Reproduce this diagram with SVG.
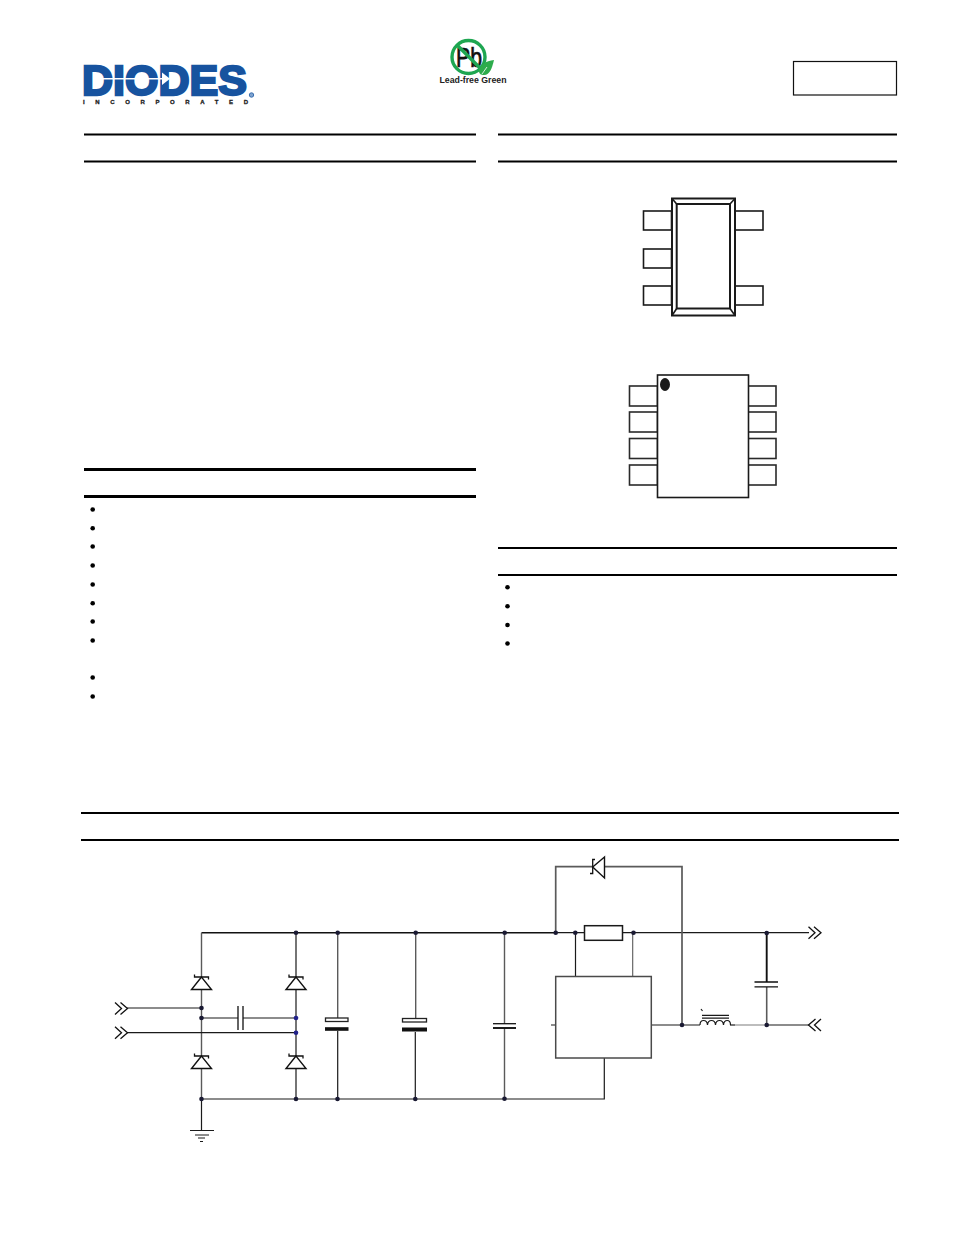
<svg xmlns="http://www.w3.org/2000/svg" width="954" height="1235" viewBox="0 0 954 1235">
<defs>
<style>
.w{fill:none;stroke:#1a1a1a;stroke-width:1.2}
.g{fill:none;stroke:#5a5a5a;stroke-width:1.4}
.k{fill:none;stroke:#111;stroke-width:1.5}
.p{fill:#fff;stroke:#222;stroke-width:1.3}
.r{stroke:#000;fill:none}
.d{fill:#1a1a33}
.b{fill:#000}
</style>
<g id="dz">
<path class="k" style="stroke-width:1.4" d="M0 0L-10 12.500H10Z"/>
<path class="k" style="stroke-width:1.3" d="M-7 -2.500V0H7V2.500"/>
</g>
<path id="ch" class="k" style="stroke-width:1.3" d="M0 -6L6.500 0L0 6M5.500 -6L12.500 0L5.500 6"/>
</defs>
<rect width="954" height="1235" fill="#fff"/>
<g id="logo-diodes">
<text x="82" y="95" font-family="Liberation Sans, Arial, sans-serif" font-weight="700" font-size="43" fill="#17539f" stroke="#17539f" stroke-width="2.400" stroke-linejoin="miter" textLength="165" lengthAdjust="spacingAndGlyphs">DIODES</text>
<path d="M93 78.700H164" stroke="#fff" stroke-width="1.400" fill="none"/>
<path d="M162 72.500L170 78.700L162 85Z" fill="#fff"/>
<text x="83" y="104" font-family="Liberation Sans, Arial, sans-serif" font-weight="700" font-size="6" fill="#222" stroke="#222" stroke-width=".3" textLength="165">INCORPORATED</text>
<circle cx="251.500" cy="95" r="2.200" fill="#7fa3cf" stroke="#3a6fb0" stroke-width="1"/>
</g>
<g id="logo-leadfree">
<text x="456" y="67" font-family="Liberation Sans, Arial, sans-serif" font-size="27" fill="#111" stroke="#111" stroke-width=".7" textLength="26" lengthAdjust="spacingAndGlyphs">Pb</text>
<circle cx="468.500" cy="57" r="16.500" fill="none" stroke="#1ea651" stroke-width="3.400"/>
<path d="M457 45L481 69" stroke="#1ea651" stroke-width="3.400" fill="none"/>
<path d="M494 60C486 61 479 65 479 71C479 74 481 75 484 75C490 75 492 68 494 60Z" fill="#2dac4c"/>
<path d="M482 74L487 67" stroke="#fff" stroke-width=".8" fill="none"/>
<text x="439.500" y="83" font-family="Liberation Sans, Arial, sans-serif" font-weight="700" font-size="9" fill="#222" textLength="67" lengthAdjust="spacingAndGlyphs">Lead-free Green</text>
</g>
<g id="part-box"><rect x="793.500" y="61.500" width="103" height="33.500" fill="#fff" stroke="#111" stroke-width="1.200"/></g>
<g id="rules">
<path class="r" stroke-width="2" d="M84 134.500H476M84 161.500H476M498 134.500H897M498 161.500H897M498 548H897M498 575H897M81 813H899M81 840H899"/>
<path class="r" stroke-width="3" d="M84 469.500H476M84 496.500H476"/>
</g>
<g id="bullets">
<circle class="b" cx="92.700" cy="509.500" r="2.300"/><circle class="b" cx="92.700" cy="528.300" r="2.300"/><circle class="b" cx="92.700" cy="546.500" r="2.300"/><circle class="b" cx="92.700" cy="565.500" r="2.300"/><circle class="b" cx="92.700" cy="584.500" r="2.300"/><circle class="b" cx="92.700" cy="603.300" r="2.300"/><circle class="b" cx="92.700" cy="621.500" r="2.300"/><circle class="b" cx="92.700" cy="640.500" r="2.300"/><circle class="b" cx="92.700" cy="677.500" r="2.300"/><circle class="b" cx="92.700" cy="696.500" r="2.300"/>
<circle class="b" cx="507.500" cy="587.300" r="2.300"/><circle class="b" cx="507.500" cy="606.300" r="2.300"/><circle class="b" cx="507.500" cy="625" r="2.300"/><circle class="b" cx="507.500" cy="643.500" r="2.300"/>
</g>
<g id="package-sot25" fill="#fff" stroke="#1a1a1a" stroke-width="1.600">
<rect x="643.500" y="211" width="28" height="19"/><rect x="643.500" y="249" width="28" height="19"/><rect x="643.500" y="286" width="28" height="19"/>
<rect x="735" y="211" width="28" height="19"/><rect x="735" y="286" width="28" height="19"/>
<rect x="672" y="198.500" width="63" height="117" stroke-width="2"/>
<rect x="676.700" y="204" width="53.300" height="104.500" stroke-width="2"/>
<path d="M672 198.500L676.700 204M735 198.500L730 204M672 315.500L676.700 308.500M735 315.500L730 308.500"/>
</g>
<g id="package-so8" fill="#fff" stroke="#2a2a2a" stroke-width="1.600">
<rect x="629.500" y="386" width="28" height="20"/><rect x="629.500" y="412" width="28" height="20"/><rect x="629.500" y="438.500" width="28" height="20"/><rect x="629.500" y="465" width="28" height="20"/>
<rect x="748" y="386" width="28" height="20"/><rect x="748" y="412" width="28" height="20"/><rect x="748" y="438.500" width="28" height="20"/><rect x="748" y="465" width="28" height="20"/>
<rect x="657.500" y="375" width="91" height="122.500" stroke="#1a1a1a"/>
<ellipse cx="665" cy="384.500" rx="5" ry="6.500" fill="#1a1a1a" stroke="none"/>
</g>
<g id="connectors">
<path class="k" d="M201.500 932.700H555.700"/>
<path class="w" d="M555.700 932.700H584M622.700 932.700H809"/>
<path class="g" d="M201.500 932.700V977M201.500 990V1056M201.500 1068V1099"/>
<path class="w" d="M201.500 1099V1130M296 932.700V977M296 990V1056M296 1068V1099"/>
<path class="w" d="M127 1008H201.500M127 1032.700H296M201.500 1018H238M243 1018H296"/>
<path class="w" d="M201.500 1099H604.300V1058"/>
<path class="g" d="M337.700 932.700V1018M415.700 932.700V1018M504.500 932.700V1024M504.500 1028V1099"/>
<path class="w" d="M337.700 1031V1099M415.300 1032V1099"/>
<path class="g" style="stroke-width:1.700" d="M555.700 932.700V866.700H592M605 866.700H682V1025"/>
<path class="w" d="M575.500 932.700V976.500"/>
<path class="g" style="stroke-width:1.100" d="M632.700 932.700V976.500"/>
<path class="w" d="M551 1025H556M651 1025H700"/>
<path class="k" style="stroke-width:1.900" d="M766.700 933V982"/>
<path class="g" style="stroke-width:1.600" d="M766.700 987V1025"/>
<path class="w" d="M730 1025H735"/>
<path class="g" style="stroke-width:1.300;stroke:#999" d="M735 1025H766.700"/>
<path class="w" d="M766.700 1025H809"/>
</g>
<g id="bridge-diodes">
<use href="#dz" x="201.500" y="977"/><use href="#dz" x="296" y="977"/><use href="#dz" x="201.500" y="1056"/><use href="#dz" x="296" y="1056"/>
</g>
<g id="bridge-cap"><path class="k" style="stroke-width:1.300" d="M238 1006V1030M243 1006V1030"/></g>
<g id="input-1"><use href="#ch" x="115" y="1008.500"/></g>
<g id="input-2"><use href="#ch" x="115" y="1032.700"/></g>
<g id="ground"><path class="w" d="M190 1130.500H214M195 1135H209M198 1138H205M200 1141.500H203"/></g>
<g id="cap-c1"><rect x="325.500" y="1018" width="22.500" height="3.500" class="p"/><rect x="325" y="1027.200" width="23.500" height="3.600" fill="#111"/></g>
<g id="cap-c2"><rect x="402.500" y="1018.500" width="24" height="3.500" class="p"/><rect x="402" y="1027.500" width="25" height="4" fill="#111"/></g>
<g id="cap-c3"><path class="k" style="stroke-width:1.300" d="M493 1023.700H516"/><path class="k" style="stroke-width:1.900" d="M493 1028H516"/></g>
<g id="cap-c4"><path class="k" style="stroke-width:1.300" d="M754.500 982H778M754.500 986.800H778"/></g>
<g id="flyback-diode"><path class="k" style="stroke-width:1.400" d="M604.500 857L592.700 867L604.500 878Z" fill="#fff"/><path class="k" style="stroke-width:1.300" d="M595 859.500H592.700V873.500H590"/></g>
<g id="resistor"><rect x="584.500" y="925.700" width="38" height="14.600" fill="#fff" stroke="#1a1a1a" stroke-width="1.500"/></g>
<g id="ic"><rect x="555.700" y="976.500" width="95.600" height="81.500" fill="#fff" stroke="#4a4a4a" stroke-width="1.500"/></g>
<g id="inductor"><path class="w" d="M700 1025C700 1019 707 1019 707.500 1025C708 1019 715 1019 715.500 1025C716 1019 723 1019 723.500 1025C724 1019 730.500 1019 730.500 1025"/><path class="w" d="M702 1015.300H729M702 1018.200H729M701 1009L702.500 1011"/></g>
<g id="output-1"><use href="#ch" x="808.500" y="932.700"/></g>
<g id="output-2"><use href="#ch" transform="translate(821 1025) scale(-1 1)"/></g>
<g id="junctions">
<circle class="d" cx="296" cy="932.700" r="2.300"/><circle class="d" cx="337.700" cy="932.700" r="2.300"/><circle class="d" cx="415.700" cy="932.700" r="2.300"/><circle class="d" cx="504.700" cy="932.700" r="2.300"/><circle class="d" cx="555.700" cy="932.700" r="2.300"/><circle class="d" cx="575.300" cy="932.700" r="2.300"/><circle class="d" cx="633.500" cy="932.700" r="2.300"/><circle class="d" cx="766.700" cy="933" r="2.300"/>
<circle class="d" cx="201.500" cy="1008" r="2.300"/><circle class="d" cx="201.500" cy="1018" r="2.300"/><circle cx="296" cy="1018" r="2.300" fill="#22228a"/><circle cx="296" cy="1032.700" r="2.300" fill="#22228a"/>
<circle class="d" cx="201.500" cy="1099" r="2.300"/><circle class="d" cx="296" cy="1099" r="2.300"/><circle class="d" cx="337.500" cy="1099" r="2.300"/><circle class="d" cx="415.300" cy="1099" r="2.300"/><circle class="d" cx="504.500" cy="1098.700" r="2.300"/>
<circle class="d" cx="682" cy="1025" r="2.300"/><circle class="d" cx="766.700" cy="1025" r="2.300"/>
</g>
</svg>
